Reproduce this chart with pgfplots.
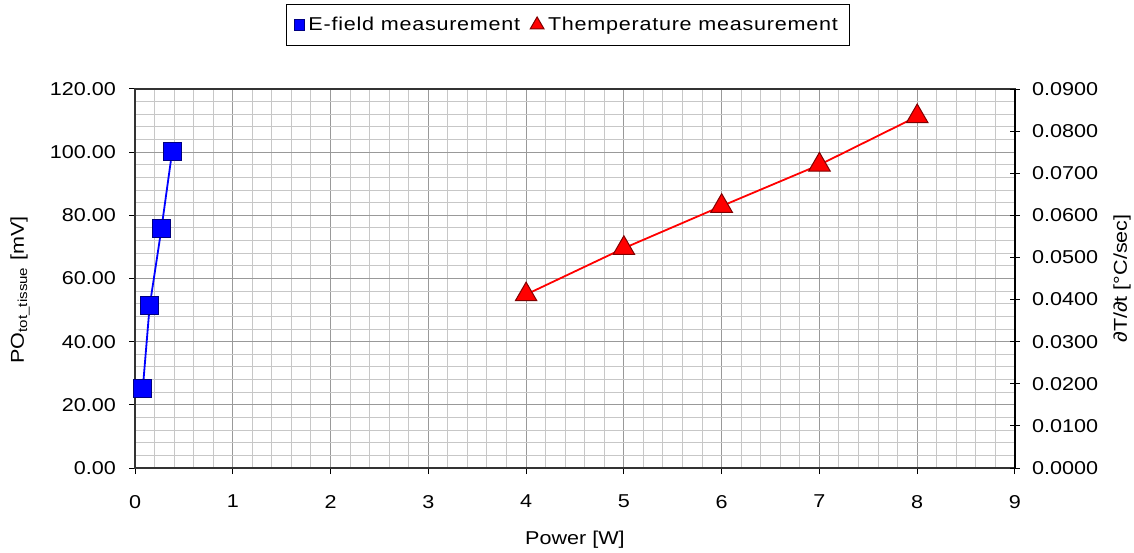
\documentclass[border=0pt]{standalone}
\usepackage{pgfplots}
\pgfplotsset{compat=1.18}
\usepackage{fontspec}
\setmainfont{Liberation Sans}[FakeStretch=1.16]

\definecolor{efield}{RGB}{0,0,255}
\definecolor{efieldedge}{RGB}{0,0,128}
\definecolor{temp}{RGB}{255,0,0}
\definecolor{tempedge}{RGB}{128,0,0}

\pgfplotsset{
  common/.style={
    scale only axis,
    width=440pt, height=189.5pt,
    at={(67.5pt,42pt)}, anchor=south west,
    xmin=0, xmax=9,
    font=\fontsize{9.3}{11}\selectfont,
    /pgf/number format/assume math mode=true,
  },
}

\begin{document}
\begin{tikzpicture}
\path[use as bounding box] (0,0) rectangle (567pt,276pt);

% left axis: E-field
\begin{axis}[common,
  ymin=0, ymax=120,
  xtick={0,...,9},
  ytick={0,20,...,120},
  minor x tick num=4,
  minor y tick num=4,
  grid=both,
  major grid style={black!40, line width=0.5pt},
  minor grid style={black!22, line width=0.5pt},
  axis line style={black!80, line width=0.6pt},
  tick style={black, line width=0.5pt},
  minor tick length=0pt,
  major tick length=3pt,
  tick align=outside,
  xtick pos=bottom, ytick pos=left,
  yticklabel style={xshift=-3pt, /pgf/number format/.cd, fixed, fixed zerofill, precision=2},
  xticklabel style={yshift=-7pt, /pgf/number format/.cd, fixed, precision=0},
  xlabel={Power [W]},
  ylabel={PO\textsubscript{tot\_tissue} [mV]},
  xlabel style={at={(axis description cs:0.5,-0.19)}, anchor=center},
  ylabel style={at={(axis description cs:-0.1307,0.47)}, anchor=center},
  legend columns=2,
  legend style={at={(0.492,1.169)}, anchor=center, draw=black, line width=0.5pt,
    font=\fontsize{9.3}{11}\selectfont\addfontfeature{LetterSpace=4},
    inner xsep=4pt, inner ysep=4pt,
    /tikz/every even column/.append style={column sep=3pt}},
  legend cell align=left,
]
\addplot[forget plot, color=efield, line width=0.9pt, mark=square*,
  mark options={fill=efield, draw=efieldedge, mark size=4.5pt, line width=0.5pt}]
  coordinates {(0.08,25.3) (0.15,51.3) (0.27,75.7) (0.38,100.2)};
\addlegendimage{only marks, mark=square*,
  mark options={fill=efield, draw=efieldedge, mark size=2.6pt, line width=0.5pt}}
\addlegendentry{E-field measurement}
\addlegendimage{only marks, mark=triangle*,
  mark options={fill=temp, draw=tempedge, mark size=4pt, line width=0.5pt}}
\addlegendentry{Themperature measurement}
\end{axis}

% right axis: temperature
\begin{axis}[common,
  ymin=0, ymax=0.09,
  axis x line=none,
  axis y line*=right,
  ytick={0,0.01,...,0.09},
  axis line style={black, line width=0.6pt},
  tick style={black, line width=0.5pt},
  major tick length=5pt,
  ytick align=center,
  yticklabel style={xshift=2.5pt, /pgf/number format/.cd, fixed, fixed zerofill, precision=4},
  scaled y ticks=false,
  ylabel={∂T/∂t [°C/sec]},
  ylabel style={at={(axis description cs:1.1216,0.5)}, anchor=center},
]
\addplot[color=temp, line width=0.9pt, mark=triangle*,
  mark options={fill=temp, draw=tempedge, mark size=6.2pt, line width=0.5pt}]
  coordinates {(4,0.0412) (5,0.0522) (6,0.0622) (7,0.0720) (8,0.0835)};
\end{axis}
\end{tikzpicture}
\end{document}
